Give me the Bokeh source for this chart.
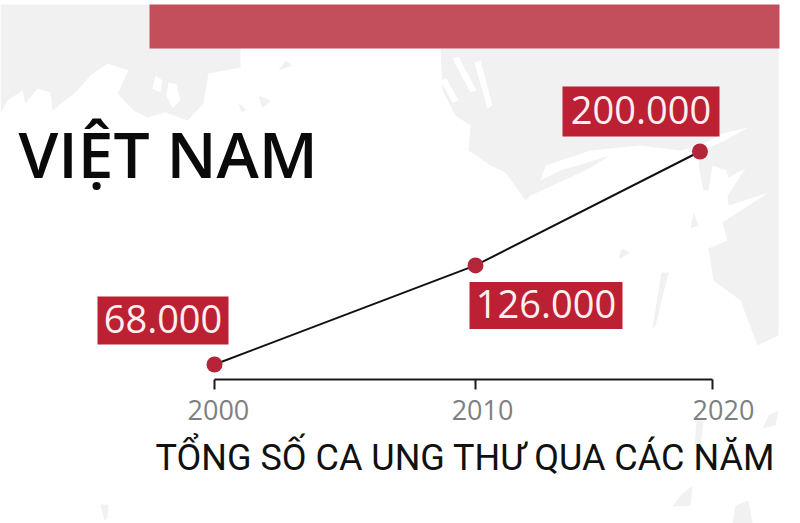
from bokeh.embed import file_html
from bokeh.resources import INLINE
from bokeh.plotting import figure
from bokeh.models import ColumnDataSource, Range1d, LinearAxis, FixedTicker
from bokeh.core.properties import value

# ---- data ----
years = [2000, 2010, 2018.6]
cases = [68000, 129400, 200000]
case_labels = ["68.000", "126.000", "200.000"]
tick_years = [2000, 2010, 2019.08]
tick_label_pos = [2000.15, 2010.27, 2019.5]
tick_labels = ["2000", "2010", "2020"]
title_text = "VIỆT NAM"
caption_text = "TỔNG SỐ CA UNG THƯ QUA CÁC NĂM"

W, H = 800, 523
# x: 214px = 2000, 475px = 2010 ; y: 364px = 68000, 151px = 200000
PX_X = 26.1
PX_Y = 213 / 132000
x0 = 2000 - 214 / PX_X
x1 = x0 + W / PX_X
y_bottom = 68000 - (H - 364) / PX_Y
y_top = y_bottom + H / PX_Y


def sx(px):
    return [x0 + v / PX_X for v in px]


def sy(px):
    return [y_top - v / PX_Y for v in px]


p = figure(width=W, height=H, x_range=Range1d(x0, x1), y_range=Range1d(y_bottom, y_top),
           output_backend="svg", toolbar_location=None, min_border=0,
           x_axis_location=None, y_axis_location=None,
           margin=(0, 0, 0, 0), background_fill_color="white", border_fill_color="white")
p.outline_line_color = None
p.grid.visible = False

# ---- decorative map texture (screen pixels) ----
GREY = "#f1f1f2"
grey_shapes = [
    # top-left land mass
    ([0, 240, 240, 208, 203, 187, 165, 147, 133, 117, 128, 107, 90, 77, 52, 50, 37, 25, 22, 7, 0],
     [4, 4, 67, 73, 103, 120, 112, 117, 110, 93, 70, 63, 75, 90, 110, 92, 88, 103, 90, 100, 113]),
    # top-right land mass
    ([440, 778, 778, 757, 740, 713, 708, 727, 722, 768, 728, 727, 745, 728, 726, 712, 708, 703, 698, 700,
      725, 747, 722, 700, 680, 640, 620, 590, 545, 540, 560, 610, 585, 530, 525, 505, 490, 468, 470, 455, 442],
     [48, 48, 335, 345, 300, 280, 248, 240, 222, 192, 205, 195, 168, 177, 170, 165, 190, 190, 165, 150,
      140, 127, 133, 145, 150, 145, 147, 150, 165, 180, 170, 155, 170, 195, 200, 172, 165, 150, 125, 115, 90]),
    # specks
    ([285, 292, 278], [60, 65, 70]),
    ([258, 270, 262], [95, 100, 108]),
    ([238, 246, 241], [102, 110, 112]),
    ([693, 698, 690], [212, 225, 228]),
    ([661, 668, 655, 652], [272, 272, 325, 328]),
    ([622, 630, 620, 618], [248, 252, 258, 256]),
    ([680, 692, 690, 672], [495, 485, 505, 506]),
    ([735, 748, 752, 732], [505, 500, 523, 523]),
    ([768, 778, 775, 762], [415, 410, 425, 428]),
    ([696, 703, 700, 694], [420, 420, 445, 445]),
    ([100, 108, 107, 104], [504, 504, 518, 520]),
]
for xs, ys in grey_shapes:
    p.patch(sx(xs), sy(ys), fill_color=GREY, line_color=None)

# white holes in the land masses
white_shapes = [
    ([155, 162, 160, 152], [75, 80, 92, 88]),
    ([168, 176, 180, 172, 166], [82, 84, 100, 108, 95]),
    ([452, 458, 476, 470], [58, 56, 90, 92]),
    ([474, 480, 492, 487], [62, 60, 105, 108]),
    ([440, 446, 458, 452], [80, 78, 100, 102]),
]
for xs, ys in white_shapes:
    p.patch(sx(xs), sy(ys), fill_color="white", line_color=None)

# ---- header bar ----
p.quad(left=sx([149]), right=sx([779]), top=sy([4]), bottom=sy([48]),
       fill_color="#c24f5a", line_color=None)

# ---- axis: line and ticks ----
axis_y = sy([379])[0]
tick_len = 10 / PX_Y
p.segment(x0=[tick_years[0]], x1=[tick_years[-1]], y0=[axis_y], y1=[axis_y],
          line_color="#1a1a1a", line_width=2)
p.segment(x0=tick_years, x1=tick_years, y0=[axis_y] * 3, y1=[axis_y - tick_len] * 3,
          line_color="#1a1a1a", line_width=2)

# ---- tick labels, shifted as in the source ----
axis = LinearAxis(ticker=FixedTicker(ticks=tick_label_pos),
                  major_label_overrides=dict(zip(tick_label_pos, tick_labels)),
                  axis_line_color=None, major_tick_line_color=None, minor_tick_line_color=None,
                  major_tick_out=0, major_tick_in=0, major_label_standoff=20,
                  major_label_text_color="#7f7f7f", major_label_text_font="Open Sans",
                  major_label_text_font_size="27px")
axis.fixed_location = axis_y
p.add_layout(axis, "below")

# ---- series ----
src = ColumnDataSource(dict(x=years, y=cases))
p.line("x", "y", source=src, line_color="#111111", line_width=2)
p.scatter("x", "y", source=src, size=16, fill_color="#b5253a", line_color=None)

# ---- value labels ----
label_x = sx([162.5, 545.5, 640.5])
label_y = sy([320, 305, 111])
text_y = sy([318, 303, 109])
label_w = [131, 153, 157]
label_h = [48, 47, 50]
for lx, ly, ty, lw, lh, t in zip(label_x, label_y, text_y, label_w, label_h, case_labels):
    p.quad(left=[lx - lw / 2 / PX_X], right=[lx + lw / 2 / PX_X],
           top=[ly + lh / 2 / PX_Y], bottom=[ly - lh / 2 / PX_Y],
           fill_color="#bc2033", line_color=None)
    p.text([lx], [ty], text=[t], text_color="#fbeff0", text_font=value("Open Sans"),
           text_font_size="38px", text_align="center", text_baseline="middle")

# ---- texts ----
p.text(sx([18]), sy([153]), text=[title_text], text_color="#0a0a0a",
       text_font=value("Open Sans SemiBold"), text_font_size="64px",
       text_align="left", text_baseline="middle")
p.text(sx([155]), sy([457]), text=[caption_text], text_color="#111111",
       text_font=value("Roboto"), text_font_size="36px",
       text_align="left", text_baseline="middle")

open("out.html", "w").write(file_html(p, INLINE))
